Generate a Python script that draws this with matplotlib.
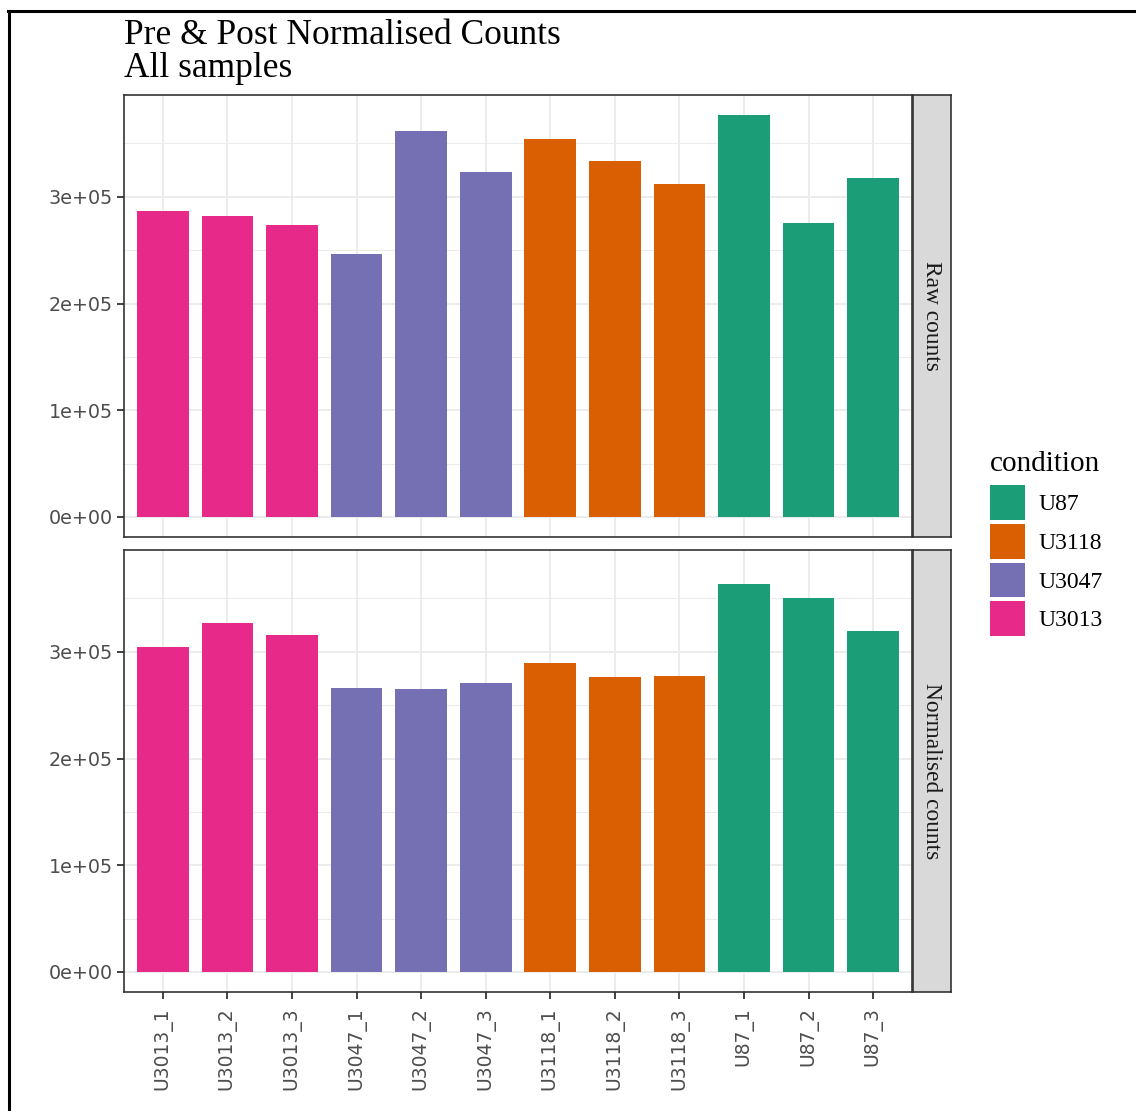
import matplotlib
matplotlib.use("Agg")
import matplotlib.pyplot as plt
from matplotlib.patches import Patch
from matplotlib.lines import Line2D
from matplotlib.ticker import MultipleLocator

# ---- data -------------------------------------------------------------
samples = ["U3013_1", "U3013_2", "U3013_3",
           "U3047_1", "U3047_2", "U3047_3",
           "U3118_1", "U3118_2", "U3118_3",
           "U87_1", "U87_2", "U87_3"]
condition = ["U3013"] * 3 + ["U3047"] * 3 + ["U3118"] * 3 + ["U87"] * 3
raw_counts = [286900, 282200, 273800,
              246700, 361700, 323400,
              354200, 333600, 312100,
              376600, 275700, 317800]
normalised_counts = [304600, 327100, 315800,
                     266200, 265200, 270900,
                     289600, 276500, 277400,
                     363600, 350500, 319600]
panel_labels = ["Raw counts", "Normalised counts"]
legend_order = ["U87", "U3118", "U3047", "U3013"]
ytick_values = [0, 100000, 200000, 300000]
ytick_labels = ["0e+00", "1e+05", "2e+05", "3e+05"]
title_text = "Pre & Post Normalised Counts\nAll samples"
legend_title = "condition"

palette = {"U87": "#1B9E77", "U3118": "#D95F02",
           "U3047": "#7570B3", "U3013": "#E7298A"}

# ---- figure -----------------------------------------------------------
W, H = 1136, 1111
fig = plt.figure(figsize=(W / 100, H / 100), dpi=100)
fig.patch.set_facecolor("white")

serif = "Liberation Serif"
sans = "DejaVu Sans"
grid_col = "#EBEBEB"
border_col = "#333333"
tick_col = "#4D4D4D"


def fx(px):
    return px / W


def fy(px):
    return 1 - px / H


panel_left, panel_right = 124, 912
strip_left, strip_right = 913, 951
panel_rows = [(95, 537), (550, 992)]

ymax = max(max(raw_counts), max(normalised_counts))
ylo, yhi = -0.05 * ymax, 1.05 * ymax
x = list(range(len(samples)))
colors = [palette[c] for c in condition]

for i, (vals, label) in enumerate(zip([raw_counts, normalised_counts], panel_labels)):
    top, bot = panel_rows[i]
    ax = fig.add_axes([fx(panel_left), fy(bot), fx(panel_right - panel_left),
                       (bot - top) / H])
    ax.set_axisbelow(True)
    ax.bar(x, vals, width=0.8, color=colors, linewidth=0)
    ax.set_xlim(-0.6, len(samples) - 0.4)
    ax.set_ylim(ylo, yhi)
    ax.set_yticks(ytick_values)
    ax.set_yticklabels(ytick_labels, fontfamily=sans, fontsize=13.8, color=tick_col)
    ax.yaxis.set_minor_locator(MultipleLocator(50000))
    ax.set_xticks(x)
    if i == 1:
        ax.set_xticklabels(samples, rotation=90, fontfamily=sans, fontsize=13.5,
                           color=tick_col)
        ax.tick_params(axis="x", length=5, width=1.3, color=border_col, pad=6)
    else:
        ax.set_xticklabels([])
        ax.tick_params(axis="x", length=0)
    ax.tick_params(axis="y", which="major", length=5, width=1.3,
                   color=border_col, pad=3)
    ax.tick_params(axis="y", which="minor", length=0)
    ax.grid(True, which="major", color=grid_col, linewidth=1.3)
    ax.grid(True, which="minor", axis="y", color=grid_col, linewidth=0.7)
    for sp in ax.spines.values():
        sp.set_color(border_col)
        sp.set_linewidth(1.2)

    # facet strip on the right
    sax = fig.add_axes([fx(strip_left), fy(bot), fx(strip_right - strip_left),
                        (bot - top) / H])
    sax.set_facecolor("#D9D9D9")
    sax.set_xticks([])
    sax.set_yticks([])
    for sp in sax.spines.values():
        sp.set_color(border_col)
        sp.set_linewidth(1.2)
    sax.text(0.5, 0.5, label, rotation=270, ha="center", va="center",
             fontfamily=serif, fontsize=16.8, color="#1A1A1A",
             transform=sax.transAxes)

# ---- title ------------------------------------------------------------
fig.text(fx(124), fy(19), title_text, ha="left", va="top",
         fontfamily=serif, fontsize=25.5, color="black", linespacing=1.0)

# ---- legend -----------------------------------------------------------
handles = [Patch(facecolor=palette[c], edgecolor="none", label=c) for c in legend_order]
leg = fig.legend(handles=handles, title=legend_title, loc="upper left",
                 bbox_to_anchor=(fx(985), fy(446)), frameon=False,
                 prop={"family": serif, "size": 17},
                 title_fontproperties={"family": serif, "size": 21},
                 handlelength=1.48, handleheight=1.9, labelspacing=0.16,
                 handletextpad=0.6, borderaxespad=0, borderpad=0.2)
leg._legend_box.align = "left"
leg._legend_box.sep = 6.0  # extra room between the title and the keys

# ---- outer frame lines ------------------------------------------------
fig.add_artist(Line2D([fx(9), fx(9)], [0, fy(11)], transform=fig.transFigure,
                      color="black", linewidth=2.2))
fig.add_artist(Line2D([fx(8), 1], [fy(11), fy(11)], transform=fig.transFigure,
                      color="black", linewidth=2.2))

fig.savefig("out.png", dpi=100, facecolor="white")
